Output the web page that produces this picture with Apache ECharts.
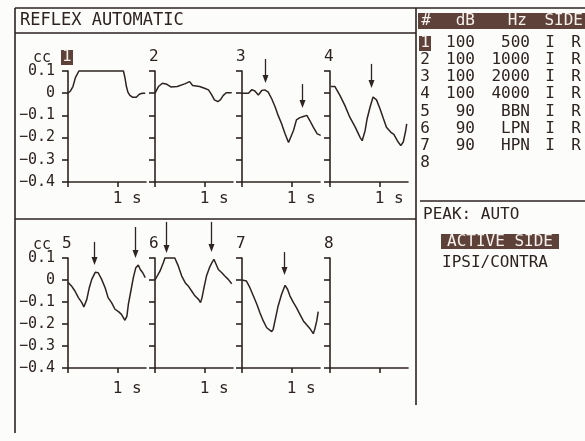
<!DOCTYPE html>
<html><head><meta charset="utf-8">
<script src="https://cdn.jsdelivr.net/npm/echarts@6/dist/echarts.min.js"></script>
<style>html,body{margin:0;padding:0;background:#fcfcfb}#c{width:585px;height:441px}</style>
</head><body><div id="c"></div><script>
const INK = '#2d2320', BOX = '#5e4239', BOXTXT = '#f6f0ec';
const FONT = '"DejaVu Sans Mono", monospace';

// ---- data ----
const titleText = 'REFLEX AUTOMATIC';
const panelNames = ['1', '2', '3', '4', '5', '6', '7', '8'];
const yTickValues = [0.1, 0, -0.1, -0.2, -0.3, -0.4];
const xLabelValues = [1];
const xTickValues = [0, 1];

const curve1 = [[0,0],[0.05,0.01],[0.1,0.03],[0.15,0.07],[0.22,0.1],[1.12,0.1],[1.15,0.07],[1.18,0.03],[1.21,0.005],[1.25,-0.01],[1.3,-0.018],[1.38,-0.018],[1.44,-0.005],[1.5,0],[1.56,0]];
const curve2 = [[0,0],[0.07,0.03],[0.15,0.045],[0.24,0.04],[0.32,0.028],[0.45,0.03],[0.6,0.042],[0.7,0.052],[0.76,0.035],[0.9,0.03],[1.0,0.022],[1.08,0.015],[1.14,-0.005],[1.2,-0.03],[1.27,-0.038],[1.32,-0.03],[1.38,-0.01],[1.44,0.002],[1.55,0.002]];
const curve3 = [[0,0],[0.13,0],[0.2,0.016],[0.26,0.01],[0.33,-0.008],[0.4,0.012],[0.46,0.015],[0.53,0.005],[0.6,-0.025],[0.67,-0.062],[0.73,-0.1],[0.8,-0.138],[0.87,-0.183],[0.94,-0.222],[0.98,-0.214],[1.04,-0.168],[1.1,-0.12],[1.17,-0.11],[1.24,-0.105],[1.31,-0.1],[1.37,-0.123],[1.44,-0.153],[1.52,-0.183],[1.59,-0.19]];
const curve4 = [[0.02,0.03],[0.1,0.03],[0.2,-0.01],[0.3,-0.055],[0.4,-0.108],[0.51,-0.153],[0.61,-0.2],[0.65,-0.214],[0.71,-0.168],[0.75,-0.115],[0.81,-0.062],[0.87,-0.017],[0.94,-0.03],[1.01,-0.07],[1.08,-0.115],[1.14,-0.153],[1.23,-0.176],[1.29,-0.185],[1.36,-0.214],[1.43,-0.236],[1.48,-0.22],[1.53,-0.168],[1.55,-0.138]];
const curve5 = [[0,-0.01],[0.07,-0.027],[0.14,-0.05],[0.21,-0.08],[0.28,-0.103],[0.32,-0.123],[0.38,-0.088],[0.43,-0.035],[0.48,0.003],[0.55,0.035],[0.61,0.033],[0.68,0.003],[0.75,-0.035],[0.81,-0.08],[0.88,-0.103],[0.95,-0.133],[1.02,-0.144],[1.08,-0.156],[1.15,-0.183],[1.19,-0.164],[1.22,-0.11],[1.27,-0.05],[1.32,0.011],[1.37,0.056],[1.42,0.068],[1.46,0.048],[1.51,0.033],[1.56,0.011]];
const curve6 = [[0,0],[0.03,0.003],[0.1,0.04],[0.17,0.08],[0.2,0.1],[0.4,0.1],[0.47,0.064],[0.54,0.018],[0.61,-0.012],[0.67,-0.027],[0.74,-0.05],[0.81,-0.073],[0.88,-0.088],[0.92,-0.103],[0.95,-0.08],[0.99,-0.035],[1.04,0.018],[1.1,0.056],[1.15,0.079],[1.19,0.094],[1.23,0.085],[1.28,0.048],[1.35,0.033],[1.41,0.018],[1.48,0.003],[1.55,-0.017]];
const curve7 = [[0,0],[0.03,0.003],[0.09,-0.005],[0.16,-0.035],[0.23,-0.073],[0.3,-0.11],[0.36,-0.148],[0.43,-0.186],[0.5,-0.217],[0.6,-0.235],[0.63,-0.224],[0.68,-0.171],[0.73,-0.118],[0.8,-0.065],[0.87,-0.024],[0.92,-0.042],[0.97,-0.073],[1.04,-0.103],[1.1,-0.126],[1.17,-0.156],[1.24,-0.186],[1.31,-0.205],[1.37,-0.22],[1.44,-0.244],[1.47,-0.224],[1.51,-0.186],[1.54,-0.144]];
const curve8 = [];
const curves = [curve1, curve2, curve3, curve4, curve5, curve6, curve7, curve8];

// arrows: [time, tip value, tail value]
const arrows3 = [[0.46, 0.046, 0.154], [1.21, -0.067, 0.041]];
const arrows4 = [[0.83, 0.023, 0.132]];
const arrows5 = [[0.53, 0.068, 0.173], [1.35, 0.1, 0.241]];
const arrows6 = [[0.22, 0.123, 0.264], [1.13, 0.127, 0.264]];
const arrows7 = [[0.85, 0.023, 0.127]];
const arrowSets = [[], [], arrows3, arrows4, arrows5, arrows6, arrows7, []];

const tableHeader = ['#', 'dB', 'Hz', 'SIDE'];
const rowNum  = ['1', '2', '3', '4', '5', '6', '7', '8'];
const rowDB   = ['100', '100', '100', '100', '90', '90', '90', ''];
const rowHz   = ['500', '1000', '2000', '4000', 'BBN', 'LPN', 'HPN', ''];
const rowIpsi = ['I', 'I', 'I', 'I', 'I', 'I', 'I', ''];
const rowSide = ['R', 'R', 'R', 'R', 'R', 'R', 'R', ''];
const peakText = 'PEAK: AUTO';
const optActive = 'ACTIVE SIDE';
const optIpsi = 'IPSI/CONTRA';

// ---- layout ----
const LEFTS = [68, 155, 242, 330];
const TOPS = [71, 258];
const HEIGHTS = [111, 110];
const GW = 78;
const XMAX = GW / 49.5;

const grids = [], xAxes = [], yAxes = [], series = [];
for (let i = 0; i < 8; i++) {
  const row = Math.floor(i / 4), col = i % 4;
  grids.push({left: LEFTS[col], top: TOPS[row], width: GW, height: HEIGHTS[row]});
  xAxes.push({
    type: 'value', gridIndex: i, min: 0, max: XMAX,
    axisLine: {show: true, onZero: false, lineStyle: {color: INK, width: 1.6}},
    axisTick: {show: true, customValues: xTickValues, length: 5, lineStyle: {color: INK, width: 1.6}},
    axisLabel: {show: i !== 7, customValues: xLabelValues, formatter: () => '  1 s',
      color: INK, fontFamily: FONT, fontSize: 16, margin: row === 0 ? 9 : 13},
    splitLine: {show: false}
  });
  yAxes.push({
    type: 'value', gridIndex: i, min: -0.4, max: 0.1, interval: 0.1,
    axisLine: {show: true, onZero: false, lineStyle: {color: INK, width: 1.6}},
    axisTick: {show: true, length: 6, lineStyle: {color: INK, width: 1.6}},
    axisLabel: {show: col === 0, color: INK, fontFamily: FONT, fontSize: 15, margin: 13,
      formatter: v => Math.abs(v) < 1e-9 ? '0' : v.toFixed(1).replace('-', '\u2212')},
    splitLine: {show: false}
  });
  if (curves[i].length) {
    series.push({type: 'line', xAxisIndex: i, yAxisIndex: i, data: curves[i], symbol: 'none',
      clip: false, lineStyle: {color: INK, width: 1.5}});
  }
  if (arrowSets[i].length) {
    series.push({type: 'custom', xAxisIndex: i, yAxisIndex: i, clip: false, data: arrowSets[i],
      encode: {x: 0, y: 1},
      renderItem: (params, api) => {
        const tip = api.coord([api.value(0), api.value(1)]);
        const tail = api.coord([api.value(0), api.value(2)]);
        const x = Math.round(tip[0]) + 0.5;
        return {type: 'group', children: [
          {type: 'line', shape: {x1: x, y1: tail[1], x2: x, y2: tip[1] - 5}, style: {stroke: INK, lineWidth: 1.3}},
          {type: 'polygon', shape: {points: [[x - 3, tip[1] - 8], [x + 3, tip[1] - 8], [x, tip[1]]]}, style: {fill: INK}}
        ]};
      }});
  }
}

// ---- decoration ----
const g = [];
const ln = (x1, y1, x2, y2) => g.push({type: 'line', shape: {x1, y1, x2, y2}, style: {stroke: INK, lineWidth: 1.6}, silent: true});
const tx = (text, x, y, size, align, fill) => g.push({type: 'text', silent: true,
  style: {text, x, y, font: size + 'px ' + FONT, fill: fill || INK, textAlign: align || 'left', textVerticalAlign: 'middle'}});
const box = (x, y, w, h) => g.push({type: 'rect', silent: true, shape: {x, y, width: w, height: h}, style: {fill: BOX}});

ln(15, 8, 585, 8);
ln(15, 8, 15, 433);
ln(416, 8, 416, 405);
ln(15, 33, 416, 33);
ln(15, 219, 416, 219);
ln(420, 201, 585, 201);
tx(titleText, 20, 21, 17);

// panel labels
const LABEL_Y = [57, 244];
for (let i = 0; i < 8; i++) {
  const row = Math.floor(i / 4), col = i % 4;
  const x = LEFTS[col] - 6;
  if (col === 0) tx('cc', 51, LABEL_Y[row] + 1, 15, 'right');
  if (i === 0) { box(x - 1, LABEL_Y[row] - 7, 12, 15); tx(panelNames[i], x, LABEL_Y[row], 16, 'left', BOXTXT); }
  else tx(panelNames[i], x, LABEL_Y[row], 16, 'left');
}

// table
box(418, 13, 167, 16);
tx(tableHeader[0], 426, 21, 16, 'center', BOXTXT);
tx(tableHeader[1], 475, 21, 16, 'right', BOXTXT);
tx(tableHeader[2], 527, 21, 16, 'right', BOXTXT);
tx(tableHeader[3], 583, 21, 16, 'right', BOXTXT);
for (let r = 0; r < rowNum.length; r++) {
  const y = 43 + r * 17.1;
  if (r === 0) { box(419, y - 7, 12, 15); tx(rowNum[r], 425, y, 16, 'center', BOXTXT); }
  else tx(rowNum[r], 425, y, 16, 'center');
  tx(rowDB[r], 475, y, 16, 'right');
  tx(rowHz[r], 530, y, 16, 'right');
  tx(rowIpsi[r], 550, y, 16, 'center');
  tx(rowSide[r], 576, y, 16, 'center');
}
tx(peakText, 423, 215, 16);
box(441, 234, 118, 15);
tx(optActive, 500, 242, 16, 'center', BOXTXT);
tx(optIpsi, 442, 263, 16);

const chart = echarts.init(document.getElementById('c'), null, {renderer: 'canvas'});
chart.setOption({
  animation: false,
  backgroundColor: '#fcfcfb',
  grid: grids, xAxis: xAxes, yAxis: yAxes, series,
  graphic: {elements: g}
});
</script></body></html>
